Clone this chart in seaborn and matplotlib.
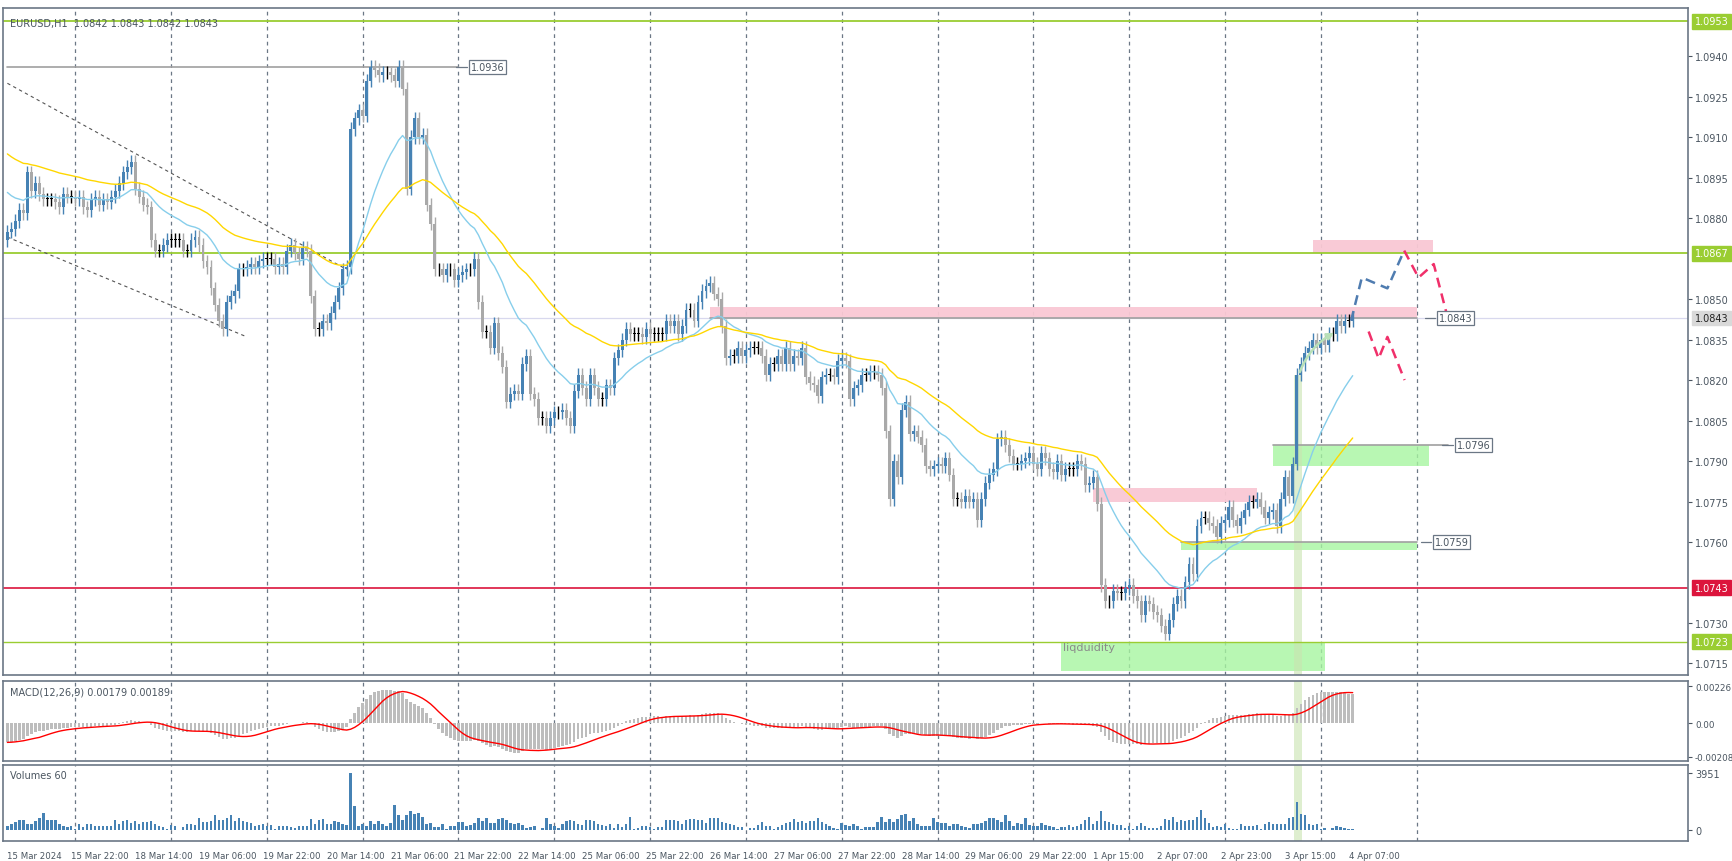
import numpy as np
import pandas as pd
import matplotlib
matplotlib.use("Agg")
import matplotlib.pyplot as plt
import matplotlib.transforms as mtrans
from matplotlib.patches import Rectangle
import seaborn as sns

sns.set_style("white")
plt.rcParams['font.family'] = ['DejaVu Sans']
plt.rcParams['axes.unicode_minus'] = False

# ---------------- data ----------------
closes = [
 1.0875,1.0876,1.0879,1.0883,1.0882,1.0897,1.0890,1.0893,1.0889,1.0887,
 1.0887,1.0887,1.0886,1.0884,1.0889,1.0888,1.0888,1.0887,1.0888,1.0884,
 1.0883,1.0887,1.0888,1.0885,1.0887,1.0886,1.0888,1.0890,1.0893,1.0897,
 1.0899,1.0901,1.0891,1.0888,1.0885,1.0884,1.0872,1.0868,1.0868,1.0870,
 1.0872,1.0872,1.0872,1.0872,1.0868,1.0868,1.0872,1.0873,1.0870,1.0864,
 1.0862,1.0854,1.0848,1.0842,1.0839,1.0849,1.0851,1.0853,1.0861,1.0861,
 1.0862,1.0863,1.0862,1.0864,1.0865,1.0865,1.0865,1.0862,1.0863,1.0862,
 1.0868,1.0870,1.0867,1.0865,1.0869,1.0868,1.0851,1.0839,1.0839,1.0842,
 1.0841,1.0845,1.0849,1.0854,1.0861,1.0862,1.0913,1.0917,1.0920,1.0918,
 1.0931,1.0936,1.0935,1.0933,1.0934,1.0934,1.0933,1.0931,1.0936,1.0928,
 1.0891,1.0910,1.0917,1.0910,1.0911,1.0885,1.0878,1.0861,1.0861,1.0859,
 1.0861,1.0861,1.0857,1.0859,1.0860,1.0861,1.0861,1.0865,1.0849,1.0838,
 1.0838,1.0832,1.0841,1.0830,1.0825,1.0812,1.0815,1.0816,1.0815,1.0826,
 1.0829,1.0815,1.0813,1.0806,1.0806,1.0803,1.0806,1.0808,1.0808,1.0809,
 1.0806,1.0803,1.0816,1.0822,1.0817,1.0813,1.0822,1.0817,1.0813,1.0813,
 1.0818,1.0817,1.0828,1.0831,1.0835,1.0839,1.0837,1.0837,1.0837,1.0836,
 1.0839,1.0837,1.0837,1.0837,1.0837,1.0842,1.0840,1.0842,1.0837,1.0840,
 1.0846,1.0846,1.0842,1.0849,1.0853,1.0855,1.0856,1.0852,1.0850,1.0840,
 1.0828,1.0829,1.0829,1.0832,1.0829,1.0831,1.0832,1.0832,1.0832,1.0829,
 1.0822,1.0826,1.0826,1.0829,1.0826,1.0832,1.0826,1.0829,1.0828,1.0832,
 1.0821,1.0819,1.0818,1.0814,1.0821,1.0822,1.0822,1.0821,1.0827,1.0828,
 1.0827,1.0813,1.0817,1.0818,1.0822,1.0822,1.0823,1.0823,1.0822,1.0817,
 1.0801,1.0776,1.0790,1.0784,1.0809,1.0812,1.0800,1.0801,1.0799,1.0796,
 1.0788,1.0787,1.0788,1.0789,1.0788,1.0791,1.0785,1.0776,1.0776,1.0775,
 1.0777,1.0775,1.0776,1.0768,1.0776,1.0782,1.0785,1.0787,1.0798,1.0799,
 1.0796,1.0792,1.0789,1.0789,1.0790,1.0791,1.0793,1.0789,1.0787,1.0793,
 1.0791,1.0787,1.0786,1.0790,1.0785,1.0787,1.0787,1.0787,1.0790,1.0789,
 1.0781,1.0782,1.0784,1.0774,1.0744,1.0738,1.0738,1.0742,1.0741,1.0741,
 1.0743,1.0744,1.0740,1.0738,1.0733,1.0738,1.0737,1.0734,1.0733,1.0729,
 1.0726,1.0731,1.0737,1.0740,1.0738,1.0745,1.0752,1.0748,1.0766,1.0769,
 1.0769,1.0767,1.0766,1.0762,1.0767,1.0768,1.0773,1.0768,1.0766,1.0769,
 1.0772,1.0775,1.0775,1.0776,1.0773,1.0769,1.0771,1.0772,1.0766,1.0776,
 1.0784,1.0777,1.0789,1.0822,1.0826,1.0830,1.0832,1.0835,1.0832,1.0835,
 1.0833,1.0837,1.0837,1.0842,1.0840,1.0842,1.0842,1.0843,
]
first_open = 1.0872
volumes = [
 260,400,540,700,660,440,440,600,860,1140,
 660,660,660,400,300,200,300,60,440,200,400,
 440,260,260,260,260,300,660,440,640,660,500,
 600,440,540,540,600,400,300,200,60,360,300,
 30,200,440,400,340,860,540,540,600,1000,700,
 700,800,1000,640,860,600,560,500,300,340,400,
 300,340,60,260,260,260,200,140,260,260,250,
 740,440,660,740,440,400,640,540,440,340,
 3951,1640,
 260,440,260,600,400,600,440,300,
 500,1700,1040,700,1040,1300,1100,1160,900,440,
 500,200,200,440,60,260,260,540,540,260,
 340,500,860,600,860,500,500,740,860,700,
 500,440,500,340,140,200,260,30,140,800,
 400,260,140,440,600,700,600,440,340,700,
 700,600,440,340,260,400,140,440,200,440,
 900,60,140,260,300,200,100,200,200,660,
 700,700,600,400,700,740,
 740,700,660,500,860,800,800,560,500,400,
 340,200,200,30,140,140,340,560,260,260,
 100,200,340,500,560,740,560,640,500,640,
 600,800,560,400,260,140,60,500,340,260,
 380,260,100,200,200,200,560,920,560,740,
 560,740,1040,1100,640,800,400,300,300,300,
 860,540,500,500,300,440,440,300,200,140,
 400,440,500,600,800,800,700,560,1040,600,
 260,500,440,800,340,300,300,500,340,260,
 200,100,200,200,340,200,260,400,680,920,
 400,600,
 1280,620,560,380,340,340,140,300,60,300,
 500,300,140,140,140,260,740,680,920,560,
 700,
 640,680,680,920,1400,860,500,200,260,200,
 380,140,100,60,380,260,260,260,340,100,
 440,560,380,380,380,440,800,920,1940,1100,
 1000,380,340,440,100,140,30,140,300,200,
 140,100,60,
]
tick_labels = ["15 Mar 2024","15 Mar 22:00","18 Mar 14:00","19 Mar 06:00","19 Mar 22:00",
 "20 Mar 14:00","21 Mar 06:00","21 Mar 22:00","22 Mar 14:00","25 Mar 06:00","25 Mar 22:00",
 "26 Mar 14:00","27 Mar 06:00","27 Mar 22:00","28 Mar 14:00","29 Mar 06:00","29 Mar 22:00",
 "1 Apr 15:00","2 Apr 07:00","2 Apr 23:00","3 Apr 15:00","4 Apr 07:00"]
day_breaks = [17,41,65,89,113,137,161,185,209,233,257,281,305,329,353]
ema_fast_seed, ema_slow_seed = 1.0891, 1.0905
macd_seed12, macd_seed26 = 1.0886, 1.0898
# drawn objects
channel_upper = ([0, 85], [1.0930, 1.0861])
channel_lower = ([0, 60], [1.0873, 1.0836])
proj_blue = ([336.6, 339.3, 345.7, 349.9], [1.0842, 1.0858, 1.0854, 1.0868])
proj_red1 = ([349.9, 353.5, 357.3, 361.0], [1.0868, 1.0858, 1.0863, 1.0842])
proj_red2 = ([341.0, 343.5, 345.7, 350.0], [1.0838, 1.0828, 1.0836, 1.0820])
zones_pink = [(176, 353, 1.0843, 1.0847), (327, 357, 1.0867, 1.0872), (272, 313, 1.0775, 1.0780)]
zones_green = [(317, 356, 1.0788, 1.0796), (294, 353, 1.0757, 1.0760), (264, 330, 1.0712, 1.0723)]

# ---------------- derived ----------------
n = len(closes)
c = np.array(closes)
o = np.concatenate([[first_open], c[:-1]])
hi = np.maximum(o, c) + 0.00025
lo = np.minimum(o, c) - 0.00025
idx = np.arange(n)

def ema(x, period, seed):
    a = 2.0 / (period + 1)
    out = []
    v = seed
    for val in x:
        v = v + a * (val - v)
        out.append(v)
    return np.array(out)

ema_f = ema(c, 21, ema_fast_seed)
ema_s = ema(c, 50, ema_slow_seed)
macd = ema(c, 12, macd_seed12) - ema(c, 26, macd_seed26)
signal = pd.Series(macd).rolling(9, min_periods=1).mean().values

df = pd.DataFrame({"bar": idx, "ema_f": ema_f, "ema_s": ema_s, "macd": macd,
                   "signal": signal, "vol": volumes})

# ---------------- figure ----------------
W, H = 1733, 862
fig = plt.figure(figsize=(W/100, H/100), dpi=100)
L, R = 3/W, 1688/W
ax = fig.add_axes([L, 1-676/H, R-L, (676-9)/H])
axm = fig.add_axes([L, 1-762/H, R-L, (762-682)/H], sharex=ax)
axv = fig.add_axes([L, 1-842/H, R-L, (842-766)/H], sharex=ax)

XL = (-1.1, 421)
grid_c = "#6b7785"
txt_c = "#4a5560"
FS = 7

for a in (ax, axm, axv):
    for s in a.spines.values():
        s.set_color(grid_c)
        s.set_linewidth(1.2)
    for d in day_breaks:
        a.axvline(d, color=grid_c, ls=(0, (3, 3)), lw=0.9, zorder=0)
    a.yaxis.tick_right()
    a.tick_params(axis='y', labelsize=FS, colors=txt_c, length=3, pad=2)
    a.tick_params(axis='x', length=0)

ax.set_xlim(*XL)
ax.set_ylim(1.07107, 1.09579)

for x0, x1, y0, y1 in zones_pink:
    ax.add_patch(Rectangle((x0, y0), x1-x0, y1-y0, color="#f9c8d4", alpha=0.95, lw=0, zorder=1))
for x0, x1, y0, y1 in zones_green:
    ax.add_patch(Rectangle((x0, y0), x1-x0, y1-y0, color="#a6f5a0", alpha=0.8, lw=0, zorder=1))

ax.axhline(1.0953, color="#9acd32", lw=1.3, zorder=2)
ax.axhline(1.0867, color="#9acd32", lw=1.3, zorder=2)
ax.axhline(1.0723, color="#9acd32", lw=1.0, zorder=2)
ax.axhline(1.0743, color="#dc143c", lw=1.2, zorder=2)
ax.axhline(1.0843, color="#d8d8ee", lw=0.9, zorder=1)
ax.plot([0, 113], [1.0936, 1.0936], color="#a0a0a0", lw=1.2, zorder=2)
ax.plot([176, 353], [1.0843, 1.0843], color="#a0a0a0", lw=1.2, zorder=2)
ax.plot([317, 361], [1.0796, 1.0796], color="#a0a0a0", lw=1.2, zorder=2)
ax.plot([294, 353], [1.0760, 1.0760], color="#a0a0a0", lw=1.2, zorder=2)

ax.add_patch(Rectangle((322.2, 1.07107), 2.2, 1.0822-1.07107, color="#c9e3b0", alpha=0.6, lw=0, zorder=1))
axm.axvspan(322.2, 324.4, color="#c9e3b0", alpha=0.6, lw=0, zorder=0)
axv.axvspan(322.2, 324.4, color="#c9e3b0", alpha=0.6, lw=0, zorder=0)

ax.plot(*channel_upper, color="#555", ls=(0, (3, 3)), lw=0.8, zorder=2)
ax.plot(*channel_lower, color="#555", ls=(0, (3, 3)), lw=0.8, zorder=2)

cols = np.where(c > o, "#4682b4", np.where(c < o, "#a9a9a9", "#000000"))
ax.vlines(idx, lo, hi, colors=cols, lw=1.0, zorder=3)
body_h = np.abs(c - o)
body_h = np.where(body_h < 0.00003, 0.00003, body_h)
ax.bar(idx, body_h, bottom=np.minimum(o, c), width=0.74, color=cols, lw=0, zorder=4)

sns.lineplot(data=df, x="bar", y="ema_f", ax=ax, color="#87ceeb", lw=1.0, zorder=5)
sns.lineplot(data=df, x="bar", y="ema_s", ax=ax, color="#ffd700", lw=1.0, zorder=5)

ax.plot(*proj_blue, color="#4f7cb0", ls=(0, (4, 2.5)), lw=1.8, zorder=6)
ax.plot(*proj_red1, color="#f0306a", ls=(0, (4, 2.5)), lw=1.8, zorder=6)
ax.plot(*proj_red2, color="#f0306a", ls=(0, (4, 2.5)), lw=1.8, zorder=6)
ax.annotate("", xy=(333, 1.0838), xytext=(323.5, 1.0822),
            arrowprops=dict(arrowstyle="-|>", color="#b8e0b8", lw=1.8,
                            connectionstyle="arc3,rad=-0.2"), zorder=6)

ax.text(0.004, 0.985, "EURUSD,H1  1.0842 1.0843 1.0842 1.0843", transform=ax.transAxes,
        fontsize=FS, color=txt_c, va="top")
ax.text(264.5, 1.0721, "liqduidity", fontsize=8, color="#8a8a8a", va="center")
box = dict(boxstyle="square,pad=0.2", fc="white", ec="#6b7785", lw=0.9)
for xb, yb, s in [(116, 1.0936, "1.0936"), (358.5, 1.0843, "1.0843"),
                  (363, 1.0796, "1.0796"), (357.5, 1.0760, "1.0759")]:
    ax.plot([xb-3.5, xb-0.8], [yb, yb], color="#6b7785", lw=0.9, zorder=6)
    ax.text(xb, yb, s, fontsize=FS, color=txt_c, va="center", bbox=box, zorder=7)

yt = [1.0940,1.0925,1.0910,1.0895,1.0880,1.0850,1.0835,1.0820,1.0805,1.0790,1.0775,1.0760,1.0730,1.0715]
ax.set_yticks(yt)
ax.set_yticklabels([f"{v:.4f}" for v in yt])
ax.set_ylabel("")
ax.set_xlabel("")
trans = mtrans.blended_transform_factory(ax.transAxes, ax.transData)
for v, fc, tc in [(1.0953, "#9acd32", "white"), (1.0867, "#9acd32", "white"),
                  (1.0843, "#d9d9d9", "#222"), (1.0743, "#dc143c", "white"),
                  (1.0723, "#9acd32", "white")]:
    ax.text(1.004, v, f"{v:.4f}", transform=trans, fontsize=FS, color=tc, va="center",
            ha="left", bbox=dict(boxstyle="square,pad=0.25", fc=fc, ec=fc), zorder=8, clip_on=False)

axm.bar(idx, macd, width=0.62, color="#bdbdbd", lw=0, zorder=2)
sns.lineplot(data=df, x="bar", y="signal", ax=axm, color="#ff0000", lw=1.0, zorder=3)
axm.set_ylim(-0.00235, 0.0026)
axm.set_yticks([0.00226, 0.0, -0.00208])
axm.set_yticklabels(["0.00226", "0.00", "-0.00208"], fontsize=6.3)
axm.set_ylabel("")
axm.text(0.004, 0.93, "MACD(12,26,9) 0.00179 0.00189", transform=axm.transAxes,
         fontsize=FS, color=txt_c, va="top")

axv.bar(idx, df["vol"], width=0.62, color="#4682b4", lw=0, zorder=2)
axv.set_ylim(-760, 4483)
axv.set_yticks([3951, 0])
axv.set_yticklabels(["3951", "0"])
axv.set_ylabel("")
axv.text(0.004, 0.93, "Volumes 60", transform=axv.transAxes, fontsize=FS, color=txt_c, va="top")

pos = [16*k for k in range(len(tick_labels))]
axv.set_xticks(pos)
axv.set_xticklabels(tick_labels, fontsize=6.2, color=txt_c, ha="left")
axv.tick_params(axis='x', pad=4, length=3, colors=txt_c)
plt.setp(ax.get_xticklabels(), visible=False)
plt.setp(axm.get_xticklabels(), visible=False)
axv.set_xlabel("")
axv.set_xlim(*XL)

fig.savefig("out.png", dpi=100, facecolor="white")
